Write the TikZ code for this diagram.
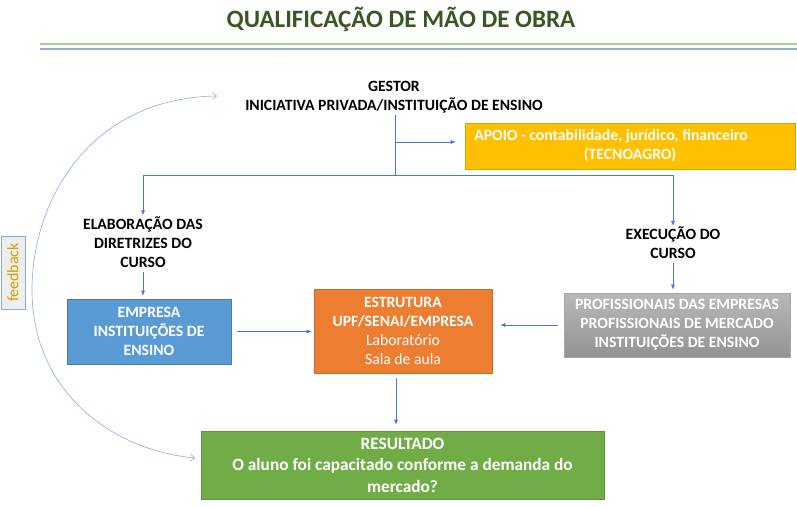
\documentclass[tikz,border=0pt]{standalone}
\usepackage{fontspec}
\setmainfont{Carlito}
\usetikzlibrary{arrows.meta,calc}
\definecolor{titlegreen}{HTML}{385723}
\definecolor{conncol}{HTML}{4A78CF}
\definecolor{fbcol}{HTML}{8EAADB}
\definecolor{boxblue}{HTML}{5B9BD5}
\definecolor{boxorange}{HTML}{ED7D31}
\definecolor{boxgreen}{HTML}{70AD47}
\definecolor{boxyellow}{HTML}{FFC000}
\definecolor{fbtext}{HTML}{D9A000}
\definecolor{rulegreen}{HTML}{A9D18E}
\definecolor{ruleblue}{HTML}{8FAADC}
\tikzset{
  conn/.style={draw=conncol, line width=0.6pt, -{Latex[length=5pt,width=4pt]}},
  plainconn/.style={draw=conncol, line width=0.6pt},
  lbl/.style={font=\fontsize{15.7}{19}\selectfont\bfseries, align=center, text=black, inner sep=1pt},
  box/.style={font=\fontsize{15.7}{19}\selectfont\bfseries, align=center, text=white, inner sep=2pt, line width=0.6pt},
}
\begin{document}
\begin{tikzpicture}[x=1pt,y=-1pt]
\useasboundingbox (0,0) rectangle (797,506);
% title and rules
\node[font=\fontsize{25}{30}\selectfont\bfseries, text=titlegreen] (title) at (401,19) {QUALIFICAÇÃO DE MÃO DE OBRA};
\coordinate (rg1) at (40,44); \coordinate (rg2) at (797,44);
\coordinate (rb1) at (40,49); \coordinate (rb2) at (797,49);
\draw[rulegreen, line width=1.2pt] (rg1) -- (rg2);
\draw[ruleblue, line width=1.2pt] (rb1) -- (rb2);

% nodes
\node[lbl] (gestor) at (394,97.5) {GESTOR\\INICIATIVA PRIVADA/INSTITUIÇÃO DE ENSINO};
\node[box, fill=boxyellow, draw=boxyellow!85!black, minimum width=330pt, minimum height=46pt] (apoio) at (630,146)
  {APOIO - contabilidade, jurídico, financeiro\hspace*{38pt}\\(TECNOAGRO)};
\node[lbl] (elab) at (143,242) {ELABORAÇÃO DAS\\DIRETRIZES DO\\CURSO};
\node[lbl] (exec) at (673,243) {EXECUÇÃO DO\\CURSO};
\node[box, fill=boxblue, draw=boxblue!80!black, minimum width=164pt, minimum height=65pt] (emp) at (149,331.5)
  {EMPRESA\\INSTITUIÇÕES DE\\ENSINO};
\node[box, fill=boxorange, draw=boxorange!85!black, minimum width=178pt, minimum height=84pt] (estr) at (403,331)
  {ESTRUTURA\\UPF/SENAI/EMPRESA\\\mdseries Laboratório\\\mdseries Sala de aula};
\node[box, top color=gray!55, bottom color=gray!85, draw=gray!70, minimum width=226pt, minimum height=64pt] (prof) at (677,325)
  {PROFISSIONAIS DAS EMPRESAS\\PROFISSIONAIS DE MERCADO\\INSTITUIÇÕES DE ENSINO};
\node[box, font=\fontsize{17.3}{21.5}\selectfont\bfseries, fill=boxgreen, draw=boxgreen!85!black, minimum width=403pt, minimum height=68pt] (res) at (402.5,465)
  {RESULTADO\\O aluno foi capacitado conforme a demanda do\\mercado?};
\node[draw=fbcol, fill=gray!13, text=fbtext, rotate=90, font=\fontsize{16}{18}\selectfont, minimum width=73pt, minimum height=24pt, inner sep=1pt] (fb) at (13,272.5) {feedback};

% connectors
\coordinate (j1) at (395,142);
\coordinate (j2) at (395,175);
\draw[plainconn] (gestor.south -| j2) -- (j2);
\draw[conn, shorten >=9pt] (j1) -- (j1 -| apoio.west);
\draw[conn] (j2) -| (elab.north);
\draw[conn] (j2) -| (exec.north);
\draw[conn, shorten <=3pt, shorten >=3pt] (exec.south) -- (exec.south |- prof.north);
\draw[conn, shorten <=3pt, shorten >=3pt] (elab.south) -- (elab.south |- emp.north);
\draw[conn, shorten <=6pt, shorten >=2pt] (emp.east) -- (estr.west |- emp.east);
\draw[conn, shorten <=6pt, shorten >=8pt] (prof.west) -- (estr.east |- prof.west);
\draw[conn, shorten <=5pt, shorten >=6pt] (estr.south -| 396,0) -- (res.north -| 396,0);

% feedback arc
\coordinate (fbtop) at (217,96);
\coordinate (fbmid) at (32,290);
\coordinate (fbbot) at (195,458);
\draw[draw=fbcol, line width=0.6pt, {Straight Barb[length=4pt,width=7pt]}-{Straight Barb[length=4pt,width=7pt]}]
  (fbtop) .. controls (90,98) and (32,200) .. (fbmid)
  .. controls (32,390) and (110,450) .. (fbbot);
\end{tikzpicture}
\end{document}
